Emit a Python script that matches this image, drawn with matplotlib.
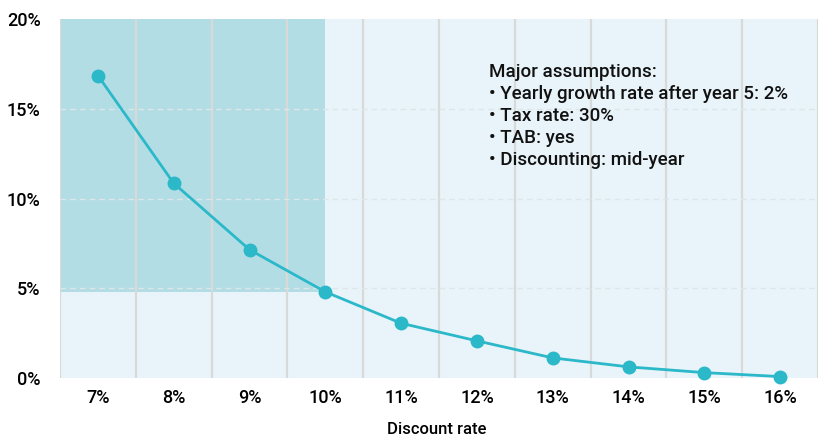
import matplotlib.pyplot as plt
import numpy as np

# data
discount_labels = ['7%', '8%', '9%', '10%', '11%', '12%', '13%', '14%', '15%', '16%']
value_pct = [16.85, 10.85, 7.15, 4.8, 3.05, 2.07, 1.12, 0.62, 0.3, 0.08]
y_ticks = [0, 5, 10, 15, 20]
y_tick_labels = ['0%', '5%', '10%', '15%', '20%']
highlight_idx = 3  # 10% discount rate
assumptions = ['Major assumptions:',
               '\u2022 Yearly growth rate after year 5: 2%',
               '\u2022 Tax rate: 30%',
               '\u2022 TAB: yes',
               '\u2022 Discounting: mid-year']

plt.rcParams['font.family'] = ['Roboto', 'DejaVu Sans']
plt.rcParams['font.weight'] = 'medium'

fig = plt.figure(figsize=(8.24, 4.37), dpi=100)
ax = fig.add_axes([60 / 824, 1 - 378 / 437, 758 / 824, 359 / 437])

x = np.arange(len(discount_labels))
ax.set_xlim(-0.5, len(x) - 0.5)
ax.set_ylim(0, 20)
ax.set_facecolor('#e8f4f9')

# darker block up to the highlighted point
ax.fill_between([-0.5, x[highlight_idx]], value_pct[highlight_idx], 20,
                color='#b3dde4', zorder=0.5, linewidth=0)

# grid: vertical boundaries solid, horizontal dashed
for b in np.arange(-0.5, len(x), 1.0):
    ax.axvline(b, color='#d9d9d9', linewidth=1.6, zorder=1)
for yv in y_ticks[1:-1]:
    ax.axhline(yv, color='#dde6e9', linewidth=1.0, linestyle=(0, (4, 3)), zorder=1)

ax.plot(x, value_pct, color='#2bb8c9', linewidth=2, marker='o', markersize=9,
        zorder=3, clip_on=False)

for s in ax.spines.values():
    s.set_visible(False)
ax.set_xticks(x)
ax.set_xticklabels(discount_labels, fontsize=13)
ax.set_yticks(y_ticks)
ax.set_yticklabels(y_tick_labels, fontsize=13)
ax.tick_params(length=0, pad=8)
ax.tick_params(axis='y', pad=14)

# axis title sits close to the bottom edge of the image
fig.text(437 / 824, 1 - 430 / 437, 'Discount rate', fontsize=12,
         ha='center', va='center')

ax.text(0.566, 0.877, '\n'.join(assumptions), transform=ax.transAxes,
        fontsize=13.5, va='top', ha='left', linespacing=1.28, color='#111111')

fig.savefig('out.png', dpi=100)
